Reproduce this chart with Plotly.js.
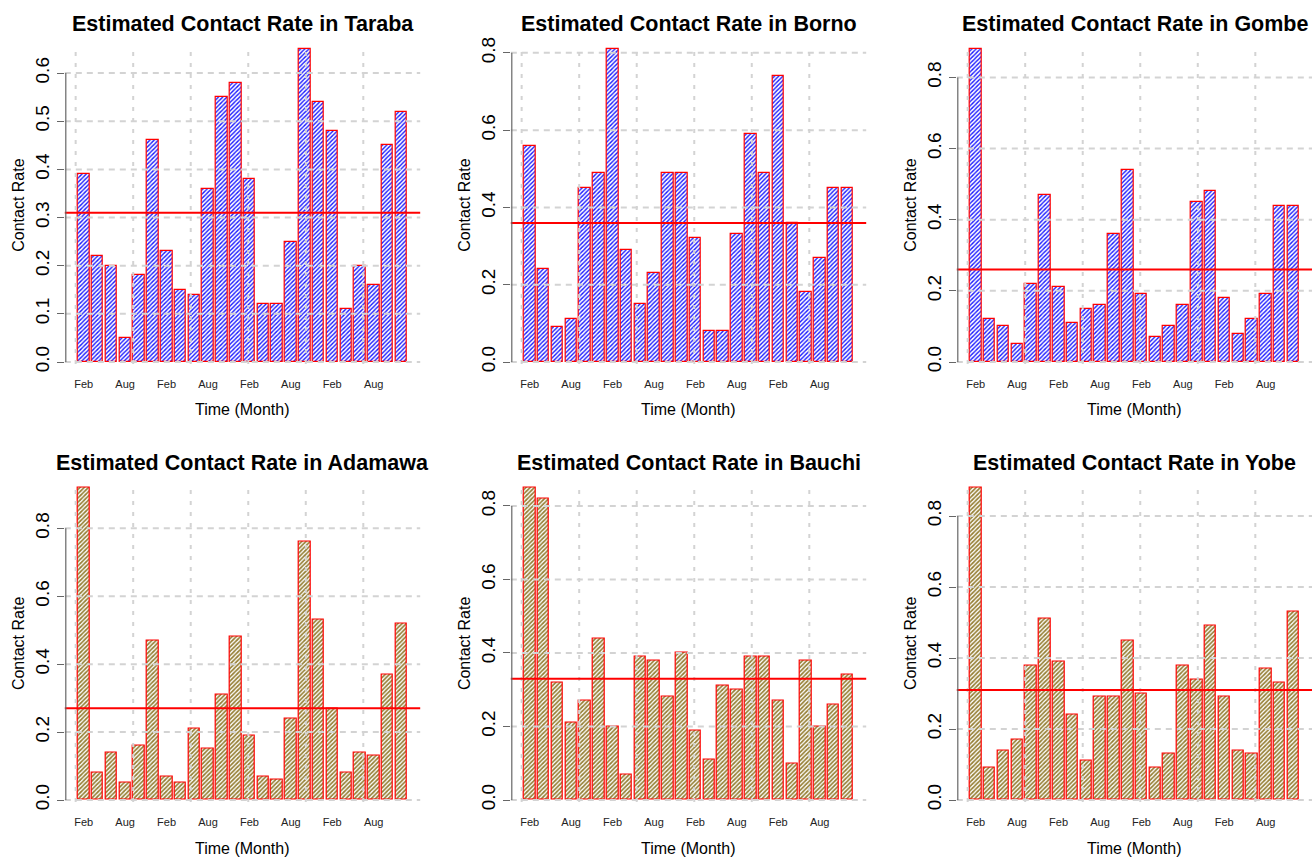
<!DOCTYPE html>
<html><head><meta charset="utf-8">
<script src="https://cdn.plot.ly/plotly-3.0.1.min.js"></script>
<style>html,body{margin:0;padding:0;background:#fff}#chart{width:1312px;height:858px}</style>
</head><body><div id="chart"></div>
<script>
// ---- data ----
const states = ['Taraba', 'Borno', 'Gombe', 'Adamawa', 'Bauchi', 'Yobe'];
const months = ['Feb','Apr','Jun','Aug','Oct','Dec','Feb','Apr','Jun','Aug','Oct','Dec',
                'Feb','Apr','Jun','Aug','Oct','Dec','Feb','Apr','Jun','Aug','Oct','Dec'];
const labelMonths = ['Feb', 'Aug'];
const taraba  = [0.39,0.22,0.20,0.05,0.18,0.46,0.23,0.15,0.14,0.36,0.55,0.58,0.38,0.12,0.12,0.25,0.65,0.54,0.48,0.11,0.20,0.16,0.45,0.52];
const borno   = [0.56,0.24,0.09,0.11,0.45,0.49,0.81,0.29,0.15,0.23,0.49,0.49,0.32,0.08,0.08,0.33,0.59,0.49,0.74,0.36,0.18,0.27,0.45,0.45];
const gombe   = [0.88,0.12,0.10,0.05,0.22,0.47,0.21,0.11,0.15,0.16,0.36,0.54,0.19,0.07,0.10,0.16,0.45,0.48,0.18,0.08,0.12,0.19,0.44,0.44];
const adamawa = [0.92,0.08,0.14,0.05,0.16,0.47,0.07,0.05,0.21,0.15,0.31,0.48,0.19,0.07,0.06,0.24,0.76,0.53,0.27,0.08,0.14,0.13,0.37,0.52];
const bauchi  = [0.85,0.82,0.32,0.21,0.27,0.44,0.20,0.07,0.39,0.38,0.28,0.40,0.19,0.11,0.31,0.30,0.39,0.39,0.27,0.10,0.38,0.20,0.26,0.34];
const yobe    = [0.88,0.09,0.14,0.17,0.38,0.51,0.39,0.24,0.11,0.29,0.29,0.45,0.30,0.09,0.13,0.38,0.34,0.49,0.29,0.14,0.13,0.37,0.33,0.53];
const meanRates = [0.31, 0.36, 0.26, 0.27, 0.33, 0.31];
const yTickStep = [0.1, 0.2, 0.2, 0.2, 0.2, 0.2];
const yTickMax  = [0.6, 0.8, 0.8, 0.8, 0.8, 0.8];
const xGridTicks = [0, 5, 10, 15, 20, 25];

// ---- styling / layout ----
const series = [taraba, borno, gombe, adamawa, bauchi, yobe];
const hatch = ['#1a1aff', '#1a1aff', '#1a1aff', '#957f34', '#957f34', '#957f34'];
const solid = [0.45, 0.45, 0.45, 0.55, 0.55, 0.55];
const W = 1312, H = 858;
const FONT = 'Liberation Sans, Arial, sans-serif';
const colLeft = [64.8, 510.8, 956.8];
const plotW = 355.4;
const rowTop = [49, 487.6];
const rowZero = [362, 800];
const xLo = -0.944, xHi = 29.944;
const pxPerX = plotW / (xHi - xLo);
const px = x => x / W;
const py = y => 1 - y / H;

const traces = [], shapes = [], annotations = [];
const layout = {
  width: W, height: H, margin: {l: 0, r: 0, t: 0, b: 0},
  paper_bgcolor: '#fff', plot_bgcolor: 'rgba(0,0,0,0)',
  showlegend: false, bargap: 0, font: {family: FONT, color: '#000'}
};

series.forEach((vals, k) => {
  const row = Math.floor(k / 3), col = k % 3;
  const n = k === 0 ? '' : String(k + 1);
  const xa = 'x' + n, ya = 'y' + n;
  const L = colLeft[col];
  const R = Math.min(L + plotW, W);
  const top = rowTop[row], zero = rowZero[row];
  const yMax = Math.max(...vals);
  const upp = yMax / (zero - top);
  const yRange = [-4 * upp, yMax + 2 * upp];
  const xRange = [xLo, xLo + (R - L) / pxPerX];
  const xs = vals.map((v, i) => 0.7 + 1.2 * i);

  traces.push({
    type: 'bar', x: xs, y: vals, width: 1, xaxis: xa, yaxis: ya,
    text: months, hoverinfo: 'text+y', textposition: 'none',
    marker: {
      color: '#fff',
      line: {color: '#ff0000', width: 1.2},
      pattern: {shape: '/', fgcolor: hatch[k], bgcolor: '#ffffff', size: 3, solidity: solid[k], fillmode: 'replace'}
    }
  });

  const tv = [], tt = [];
  months.forEach((m, i) => { if (labelMonths.includes(m)) { tv.push(xs[i]); tt.push(m); } });
  const yt = [];
  for (let t = 0; t <= yTickMax[k] + 1e-9; t += yTickStep[k]) yt.push(+t.toFixed(2));

  layout['xaxis' + n] = {
    domain: [px(L), px(R)], range: xRange, anchor: ya,
    showgrid: false, zeroline: false, showline: false, ticks: '',
    tickmode: 'array', tickvals: tv, ticktext: tt,
    tickfont: {size: 11, color: '#222', family: FONT}, ticklabelstandoff: 10, fixedrange: true
  };
  layout['yaxis' + n] = {
    domain: [py(zero + 4), py(top - 2)], range: yRange, anchor: xa,
    showgrid: false, zeroline: false, showline: false,
    ticks: 'outside', ticklen: 7, tickcolor: '#666', tickwidth: 1,
    tickmode: 'array', tickvals: yt, ticktext: yt.map(t => t.toFixed(1)),
    tickangle: -90, tickfont: {size: 19, color: '#000', family: FONT}, fixedrange: true
  };

  const grid = {color: '#d3d3d3', width: 2, dash: '6px,5px'};
  yt.forEach(t => shapes.push({type: 'line', layer: 'above', xref: 'paper', yref: ya,
    x0: px(L), x1: px(R), y0: t, y1: t, line: grid}));
  xGridTicks.forEach(t => shapes.push({type: 'line', layer: 'above', xref: xa, yref: 'paper',
    x0: t, x1: t, y0: py(zero + 2), y1: py(top), line: {color: '#d3d3d3', width: 2, dash: '4px,7px'}}));
  shapes.push({type: 'line', layer: 'above', xref: 'paper', yref: ya,
    x0: px(L), x1: px(R), y0: meanRates[k], y1: meanRates[k], line: {color: '#ff0000', width: 2}});
  shapes.push({type: 'line', layer: 'above', xref: 'paper', yref: ya,
    x0: px(L + 1), x1: px(L + 1), y0: 0, y1: yTickMax[k], line: {color: '#666', width: 1.2}});

  const cx = (L + L + plotW) / 2;
  annotations.push({xref: 'paper', yref: 'paper', x: px(cx), y: py(top - 25), xanchor: 'center', yanchor: 'middle',
    text: '<b>Estimated Contact Rate in ' + states[k] + '</b>', showarrow: false,
    font: {size: 21.5, family: FONT, color: '#000'}});
  annotations.push({xref: 'paper', yref: 'paper', x: px(cx), y: py(zero + 48), xanchor: 'center', yanchor: 'middle',
    text: 'Time (Month)', showarrow: false, font: {size: 16, family: FONT, color: '#000'}});
  annotations.push({xref: 'paper', yref: 'paper', x: px(L - 46.5), y: py((top + zero) / 2), xanchor: 'center', yanchor: 'middle',
    text: 'Contact Rate', textangle: -90, showarrow: false, font: {size: 16, family: FONT, color: '#000'}});
});

layout.shapes = shapes;
layout.annotations = annotations;
Plotly.newPlot('chart', traces, layout, {displayModeBar: false, responsive: false});
</script>
</body></html>
